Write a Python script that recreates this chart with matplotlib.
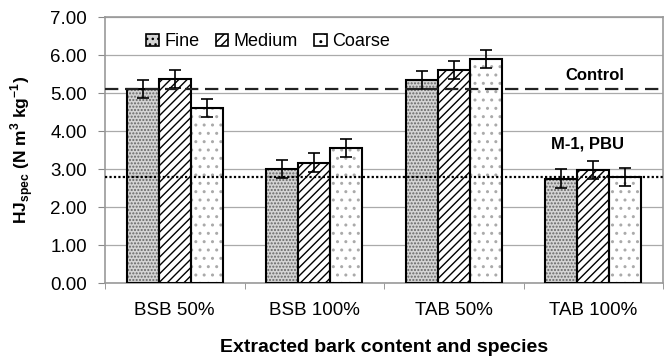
import matplotlib
matplotlib.use('Agg')
import matplotlib.pyplot as plt
from matplotlib.patches import Patch
import numpy as np

plt.rcParams['font.family'] = ['Liberation Sans', 'DejaVu Sans']
plt.rcParams['hatch.linewidth'] = 1.0

groups = ['BSB 50%', 'BSB 100%', 'TAB 50%', 'TAB 100%']
sizes = ['Fine', 'Medium', 'Coarse']
fine = [5.10, 3.00, 5.35, 2.75]
medium = [5.37, 3.17, 5.60, 2.98]
coarse = [4.60, 3.55, 5.90, 2.78]
err_fine = [0.24, 0.24, 0.24, 0.24]
err_medium = [0.24, 0.24, 0.24, 0.24]
err_coarse = [0.24, 0.24, 0.24, 0.24]
control = 5.10
pbu = 2.78

fig = plt.figure(figsize=(6.7, 3.6), dpi=100)
ax = fig.add_axes([105/670, 1 - 283/360, 558/670, 266/360])

x = np.arange(len(groups))
w = 0.23
styles = [
    dict(color='#d4d4d4', hatch='.....', edgecolor='#666666'),
    dict(color='white', hatch='////', edgecolor='black'),
    dict(color='white', hatch='..', edgecolor='#aaaaaa'),
]
series = [fine, medium, coarse]
errs = [err_fine, err_medium, err_coarse]
handles = []
for i, (vals, e, st, lab) in enumerate(zip(series, errs, styles, sizes)):
    pos = x + (i - 1) * w
    ax.bar(pos, vals, w, color=st['color'], hatch=st['hatch'],
           edgecolor=st['edgecolor'], linewidth=0, zorder=2)
    # black outline drawn separately so hatch colour can differ
    ax.bar(pos, vals, w, fill=False, edgecolor='black', linewidth=1.5, zorder=3)
    ax.errorbar(pos, vals, yerr=e, fmt='none', ecolor='black',
                elinewidth=1.2, capsize=4, capthick=1.2, zorder=4)
    handles.append(Patch(facecolor=st['color'], hatch=st['hatch'].replace('.....', '...'),
                         edgecolor='black', linewidth=1.2, label=lab))

ax.axhline(control, color='#222222', linestyle=(0, (6, 3)), linewidth=1.6, zorder=5)
ax.axhline(pbu, color='black', linestyle=(0, (1, 1)), linewidth=1.6, zorder=5)
ax.text(3.01, 5.47, 'Control', fontsize=12, fontweight='bold',
        ha='center', va='center')
ax.text(2.96, 3.66, 'M-1, PBU', fontsize=12, fontweight='bold',
        ha='center', va='center')

ax.set_xlim(-0.5, 3.5)
ax.set_ylim(0, 7)
ax.set_yticks(np.arange(0, 8, 1))
ax.set_yticklabels(['%.2f' % v for v in np.arange(0, 8, 1)], fontsize=13.5)
ax.set_xticks(x)
ax.set_xticklabels(groups, fontsize=13.5)
ax.set_xticks(np.arange(-0.5, 4, 1), minor=True)
ax.tick_params(axis='x', which='major', length=0, pad=14)
ax.tick_params(axis='x', which='minor', length=4, color='#888888')
ax.tick_params(axis='y', length=5, color='#888888', pad=8)
ax.grid(axis='y', color='#aaaaaa', linewidth=0.9, zorder=0)
ax.set_axisbelow(True)
for s in ax.spines.values():
    s.set_color('#999999')
    s.set_linewidth(1.2)

ax.set_ylabel('HJ$_{\\mathregular{spec}}$ (N m$^{\\mathregular{3}}$ kg$^{\\mathregular{-1}}$)',
              fontsize=12.5, fontweight='bold', labelpad=10)
ax.set_xlabel('Extracted bark content and species', fontsize=14,
              fontweight='bold', labelpad=14)

ax.legend(handles=handles, loc='upper left', bbox_to_anchor=(0.045, 1.0), ncol=3,
          frameon=False, fontsize=13, handlelength=0.7, handleheight=0.7,
          handletextpad=0.3, columnspacing=0.9)

fig.savefig('out.png', dpi=100)
